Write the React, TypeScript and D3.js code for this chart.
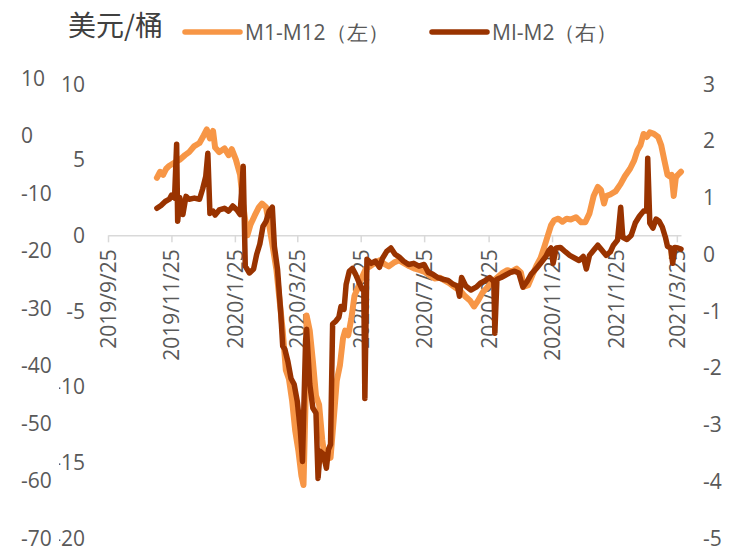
import React, {useEffect, useRef} from "react";
import * as d3 from 'd3';

const WIDTH = 752;
const HEIGHT = 553;
const PLOT_TOP = 84;
const PLOT_BOTTOM = 538;
const X_LEFT = 108;
const X_RIGHT = 681;
const ORANGE = "#F79646";
const BROWN = "#993300";
const TEXT = "#595959";
const FONT = "'Open Sans', sans-serif";
const CJK = "'Noto Sans CJK SC', sans-serif";

// M1-M12 (left axis)
const m1m12: [string, number][] = [
    ["2019-11-11", 3.8], ["2019-11-14", 4.2], ["2019-11-17", 4.0], ["2019-11-20", 4.4], ["2019-11-23", 4.6],
    ["2019-11-28", 4.8], ["2019-12-03", 5.0], ["2019-12-08", 5.3], ["2019-12-12", 5.5], ["2019-12-17", 5.9],
    ["2019-12-22", 6.1], ["2019-12-26", 6.6], ["2019-12-29", 7.0], ["2020-01-01", 6.4], ["2020-01-04", 6.9],
    ["2020-01-06", 5.8], ["2020-01-10", 5.5], ["2020-01-15", 5.75], ["2020-01-19", 5.3], ["2020-01-22", 5.7],
    ["2020-01-26", 5.0], ["2020-01-30", 4.0], ["2020-02-02", 2.0], ["2020-02-06", 0], ["2020-02-09", 0.7],
    ["2020-02-13", 1.3], ["2020-02-17", 1.85], ["2020-02-20", 2.1], ["2020-02-24", 1.85], ["2020-02-27", 0.66],
    ["2020-03-02", -1.0], ["2020-03-05", -2.3], ["2020-03-08", -4.3], ["2020-03-11", -6.3], ["2020-03-14", -8.9],
    ["2020-03-17", -9.5], ["2020-03-20", -10.9], ["2020-03-23", -12.9], ["2020-03-26", -14.2], ["2020-03-29", -15.9],
    ["2020-03-31", -16.5], ["2020-04-02", -10.9], ["2020-04-03", -5.3], ["2020-04-06", -6.3], ["2020-04-09", -8.3],
    ["2020-04-12", -10.6], ["2020-04-15", -11.2], ["2020-04-18", -13.5], ["2020-04-21", -15.0], ["2020-04-23", -14.2],
    ["2020-04-26", -14.7], ["2020-04-29", -12.2], ["2020-05-02", -9.6], ["2020-05-05", -8.6], ["2020-05-08", -6.8],
    ["2020-05-10", -6.3], ["2020-05-13", -6.6], ["2020-05-16", -5.5], ["2020-05-19", -4.0], ["2020-05-22", -3.5],
    ["2020-05-26", -2.8], ["2020-05-30", -2.2], ["2020-06-03", -2.05], ["2020-06-08", -1.8], ["2020-06-12", -1.65],
    ["2020-06-17", -1.9], ["2020-06-21", -2.05], ["2020-06-26", -1.8], ["2020-07-01", -1.65], ["2020-07-06", -1.85],
    ["2020-07-11", -2.05], ["2020-07-16", -2.2], ["2020-07-21", -2.3], ["2020-07-25", -2.4], ["2020-07-30", -2.65],
    ["2020-08-04", -2.85], ["2020-08-09", -2.8], ["2020-08-14", -3.0], ["2020-08-19", -3.2], ["2020-08-24", -3.45],
    ["2020-08-28", -3.6], ["2020-09-02", -4.0], ["2020-09-07", -4.3], ["2020-09-11", -4.7], ["2020-09-15", -4.3],
    ["2020-09-19", -3.8], ["2020-09-23", -3.5], ["2020-09-28", -3.1], ["2020-10-03", -2.8], ["2020-10-08", -2.5],
    ["2020-10-13", -2.3], ["2020-10-17", -2.4], ["2020-10-22", -2.2], ["2020-10-26", -2.45], ["2020-10-29", -3.4],
    ["2020-11-02", -3.3], ["2020-11-06", -2.65], ["2020-11-10", -2.0], ["2020-11-14", -1.5], ["2020-11-18", -0.66],
    ["2020-11-21", 0], ["2020-11-24", 0.66], ["2020-11-27", 1.0], ["2020-12-01", 1.1], ["2020-12-05", 0.9],
    ["2020-12-09", 1.1], ["2020-12-13", 1.05], ["2020-12-18", 1.2], ["2020-12-23", 0.86], ["2020-12-27", 0.86],
    ["2020-12-31", 1.45], ["2021-01-04", 2.6], ["2021-01-08", 3.2], ["2021-01-11", 3.0], ["2021-01-14", 2.1],
    ["2021-01-16", 2.6], ["2021-01-20", 2.7], ["2021-01-25", 2.9], ["2021-01-30", 3.4], ["2021-02-03", 3.9],
    ["2021-02-08", 4.4], ["2021-02-12", 4.95], ["2021-02-15", 5.6], ["2021-02-18", 5.95], ["2021-02-21", 6.7],
    ["2021-02-24", 6.5], ["2021-02-27", 6.8], ["2021-03-03", 6.7], ["2021-03-07", 6.5], ["2021-03-10", 5.95],
    ["2021-03-13", 4.95], ["2021-03-16", 4.0], ["2021-03-18", 3.9], ["2021-03-20", 4.0], ["2021-03-22", 2.6],
    ["2021-03-24", 3.8], ["2021-03-26", 4.0], ["2021-03-29", 4.2],
];

// MI-M2 (right axis)
const m1m2: [string, number][] = [
    ["2019-11-11", 0.81], ["2019-11-15", 0.86], ["2019-11-19", 0.93], ["2019-11-23", 0.97], ["2019-11-25", 1.04],
    ["2019-11-28", 0.99], ["2019-11-30", 1.94], ["2019-12-01", 0.58], ["2019-12-03", 1.0], ["2019-12-06", 0.7],
    ["2019-12-09", 1.02], ["2019-12-12", 0.97], ["2019-12-17", 0.99], ["2019-12-22", 0.97], ["2019-12-25", 1.15],
    ["2019-12-28", 1.37], ["2019-12-30", 1.78], ["2020-01-01", 0.72], ["2020-01-04", 0.76], ["2020-01-06", 0.69],
    ["2020-01-10", 0.78], ["2020-01-15", 0.81], ["2020-01-19", 0.76], ["2020-01-23", 0.85], ["2020-01-27", 0.78],
    ["2020-01-30", 0.7], ["2020-02-02", 1.55], ["2020-02-04", -0.21], ["2020-02-08", -0.33], ["2020-02-12", -0.26],
    ["2020-02-15", 0], ["2020-02-18", 0.18], ["2020-02-21", 0.49], ["2020-02-24", 0.58], ["2020-02-27", 0.76],
    ["2020-03-01", 0.83], ["2020-03-03", 0.14], ["2020-03-06", -0.26], ["2020-03-09", -1.0], ["2020-03-11", -1.62],
    ["2020-03-13", -1.67], ["2020-03-16", -1.89], ["2020-03-19", -2.19], ["2020-03-22", -2.29], ["2020-03-25", -2.59],
    ["2020-03-28", -3.12], ["2020-03-30", -3.65], ["2020-04-02", -1.53], ["2020-04-03", -1.32], ["2020-04-06", -2.29],
    ["2020-04-09", -2.71], ["2020-04-12", -2.8], ["2020-04-14", -3.95], ["2020-04-16", -3.47], ["2020-04-19", -3.52],
    ["2020-04-22", -3.77], ["2020-04-24", -3.44], ["2020-04-26", -3.35], ["2020-04-28", -1.23], ["2020-05-01", -1.18],
    ["2020-05-04", -1.11], ["2020-05-06", -0.92], ["2020-05-09", -0.97], ["2020-05-11", -0.53], ["2020-05-14", -0.3],
    ["2020-05-17", -0.25], ["2020-05-20", -0.35], ["2020-05-23", -0.48], ["2020-05-26", -0.6], ["2020-05-28", -0.65],
    ["2020-05-29", -2.54], ["2020-05-31", -0.09], ["2020-06-04", -0.16], ["2020-06-08", -0.12], ["2020-06-12", -0.23],
    ["2020-06-15", -0.07], ["2020-06-19", 0.05], ["2020-06-23", 0.11], ["2020-06-27", 0], ["2020-07-01", -0.05],
    ["2020-07-05", -0.12], ["2020-07-10", -0.18], ["2020-07-15", -0.16], ["2020-07-20", -0.21], ["2020-07-25", -0.18],
    ["2020-07-29", -0.32], ["2020-08-02", -0.35], ["2020-08-07", -0.41], ["2020-08-12", -0.44], ["2020-08-17", -0.46],
    ["2020-08-22", -0.53], ["2020-08-26", -0.56], ["2020-08-28", -0.74], ["2020-08-30", -0.41], ["2020-09-03", -0.56],
    ["2020-09-08", -0.63], ["2020-09-13", -0.58], ["2020-09-17", -0.51], ["2020-09-22", -0.46], ["2020-09-26", -0.41],
    ["2020-09-30", -0.48], ["2020-10-01", -1.39], ["2020-10-03", -0.44], ["2020-10-07", -0.41], ["2020-10-11", -0.37],
    ["2020-10-16", -0.32], ["2020-10-20", -0.3], ["2020-10-24", -0.33], ["2020-10-28", -0.58], ["2020-11-01", -0.48],
    ["2020-11-05", -0.35], ["2020-11-10", -0.25], ["2020-11-14", -0.16], ["2020-11-19", -0.04], ["2020-11-22", 0.07],
    ["2020-11-24", 0.11], ["2020-11-26", -0.16], ["2020-11-29", 0.11], ["2020-12-03", 0.12], ["2020-12-08", 0.04],
    ["2020-12-12", -0.02], ["2020-12-17", -0.07], ["2020-12-21", -0.11], ["2020-12-25", -0.04], ["2020-12-28", -0.26],
    ["2020-12-31", -0.02], ["2021-01-04", 0.07], ["2021-01-08", 0.16], ["2021-01-12", 0.07], ["2021-01-16", -0.02],
    ["2021-01-20", 0.04], ["2021-01-23", 0.16], ["2021-01-27", 0.25], ["2021-01-30", 0.83], ["2021-02-01", 0.3],
    ["2021-02-05", 0.26], ["2021-02-09", 0.33], ["2021-02-13", 0.55], ["2021-02-17", 0.67], ["2021-02-21", 0.76],
    ["2021-02-24", 0.76], ["2021-02-25", 1.69], ["2021-02-27", 0.55], ["2021-03-02", 0.46], ["2021-03-05", 0.62],
    ["2021-03-08", 0.58], ["2021-03-11", 0.48], ["2021-03-14", 0.3], ["2021-03-16", 0.14], ["2021-03-19", 0.11],
    ["2021-03-21", -0.16], ["2021-03-23", 0.12], ["2021-03-26", 0.11], ["2021-03-29", 0.09],
];

const xTickLabels = ["2019/9/25", "2019/11/25", "2020/1/25", "2020/3/25", "2020/5/25",
    "2020/7/25", "2020/9/25", "2020/11/25", "2021/1/25", "2021/3/25"];
const leftTicks = [10, 5, 0, -5, -10, -15, -20];
const outerLeftTicks = [10, 0, -10, -20, -30, -40, -50, -60, -70];
const rightTicks = [3, 2, 1, 0, -1, -2, -3, -4, -5];
const legendItems = [
    {label: "M1-M12（左）", color: ORANGE},
    {label: "MI-M2（右）", color: BROWN},
];

const parseDay = d3.timeParse("%Y-%m-%d");
const parseTick = d3.timeParse("%Y/%m/%d");

export default function App() {
    const svgRef = useRef<SVGSVGElement>(null);

    useEffect(() => {
        const svg = d3.select(svgRef.current);
        svg.selectAll('*').remove();

        const x = d3.scaleTime()
            .domain([parseTick("2019/9/25")!, parseDay("2021-03-29")!])
            .range([X_LEFT, X_RIGHT]);
        const yLeft = d3.scaleLinear().domain([10, -20]).range([PLOT_TOP, PLOT_BOTTOM]);
        const yRight = d3.scaleLinear().domain([3, -5]).range([PLOT_TOP, PLOT_BOTTOM]);
        const yOuter = d3.scaleLinear().domain([10, -70]).range([78.5, PLOT_BOTTOM]);

        // title
        svg.append('text')
            .attr('x', 68).attr('y', 36)
            .attr('font-family', CJK).attr('font-size', 28)
            .attr('fill', '#404040')
            .text("美元/桶");

        // legend
        const legendX = [185, 432];
        legendItems.forEach((item, i) => {
            const g = svg.append('g').attr('transform', `translate(${legendX[i]},32)`);
            g.append('line').attr('x1', 0).attr('x2', 55).attr('y1', 0).attr('y2', 0)
                .attr('stroke', item.color).attr('stroke-width', 5.5).attr('stroke-linecap', 'round');
            g.append('text').attr('x', 60).attr('y', 8)
                .attr('font-family', FONT).attr('font-size', 21).attr('fill', TEXT)
                .text(item.label);
        });

        // x axis at zero of the left axis
        const tickDates = xTickLabels.map(s => parseTick(s)!);
        const xAxis = d3.axisBottom(x)
            .tickValues(tickDates)
            .tickFormat((_d, i) => xTickLabels[i])
            .tickSize(7)
            .tickSizeOuter(0);
        const xAxisG = svg.append('g')
            .attr('transform', `translate(0,${yLeft(0)})`)
            .call(xAxis);
        xAxisG.select('.domain').attr('stroke', '#d9d9d9').attr('stroke-width', 1.5);
        xAxisG.selectAll('.tick line').attr('stroke', '#d9d9d9').attr('stroke-width', 1.5);
        xAxisG.selectAll('.tick text')
            .attr('fill', TEXT)
            .attr('font-family', FONT)
            .attr('font-size', 21)
            .attr('text-anchor', 'end')
            .attr('transform', 'translate(0,14) rotate(-90)')
            .attr('x', 0).attr('y', 0)
            .attr('dy', '0.36em');

        // outer left labels (left aligned)
        svg.append('g').selectAll('text').data(outerLeftTicks).enter().append('text')
            .attr('x', 21).attr('y', d => yOuter(d)).attr('dy', '0.36em')
            .attr('font-family', FONT).attr('font-size', 21).attr('fill', TEXT)
            .text(d => String(d));

        // inner left labels, partly hidden on the left
        svg.append('clipPath').attr('id', 'innerClip')
            .append('rect').attr('x', 59).attr('y', 0).attr('width', 50).attr('height', HEIGHT);
        svg.append('g').attr('clip-path', 'url(#innerClip)')
            .selectAll('text').data(leftTicks).enter().append('text')
            .attr('x', 85).attr('y', d => yLeft(d)).attr('dy', '0.36em')
            .attr('text-anchor', 'end')
            .attr('font-family', FONT).attr('font-size', 21).attr('fill', TEXT)
            .text(d => String(d));

        // right labels
        svg.append('g').selectAll('text').data(rightTicks).enter().append('text')
            .attr('x', 703).attr('y', d => yRight(d)).attr('dy', '0.36em')
            .attr('font-family', FONT).attr('font-size', 21).attr('fill', TEXT)
            .text(d => String(d));

        // lines
        const lineLeft = d3.line<[string, number]>()
            .x(d => x(parseDay(d[0])!))
            .y(d => yLeft(d[1]));
        const lineRight = d3.line<[string, number]>()
            .x(d => x(parseDay(d[0])!))
            .y(d => yRight(d[1]));

        svg.append('path').datum(m1m12)
            .attr('d', lineLeft)
            .attr('fill', 'none').attr('stroke', ORANGE).attr('stroke-width', 6)
            .attr('stroke-linejoin', 'round').attr('stroke-linecap', 'round');
        svg.append('path').datum(m1m2)
            .attr('d', lineRight)
            .attr('fill', 'none').attr('stroke', BROWN).attr('stroke-width', 5.5)
            .attr('stroke-linejoin', 'round').attr('stroke-linecap', 'round');
    }, []);

    return (
        <div style={{position: 'absolute', left: 0, top: 0}}>
            <svg ref={svgRef} width={WIDTH} height={HEIGHT} style={{display: 'block', background: '#fff'}}/>
        </div>
    );
}
